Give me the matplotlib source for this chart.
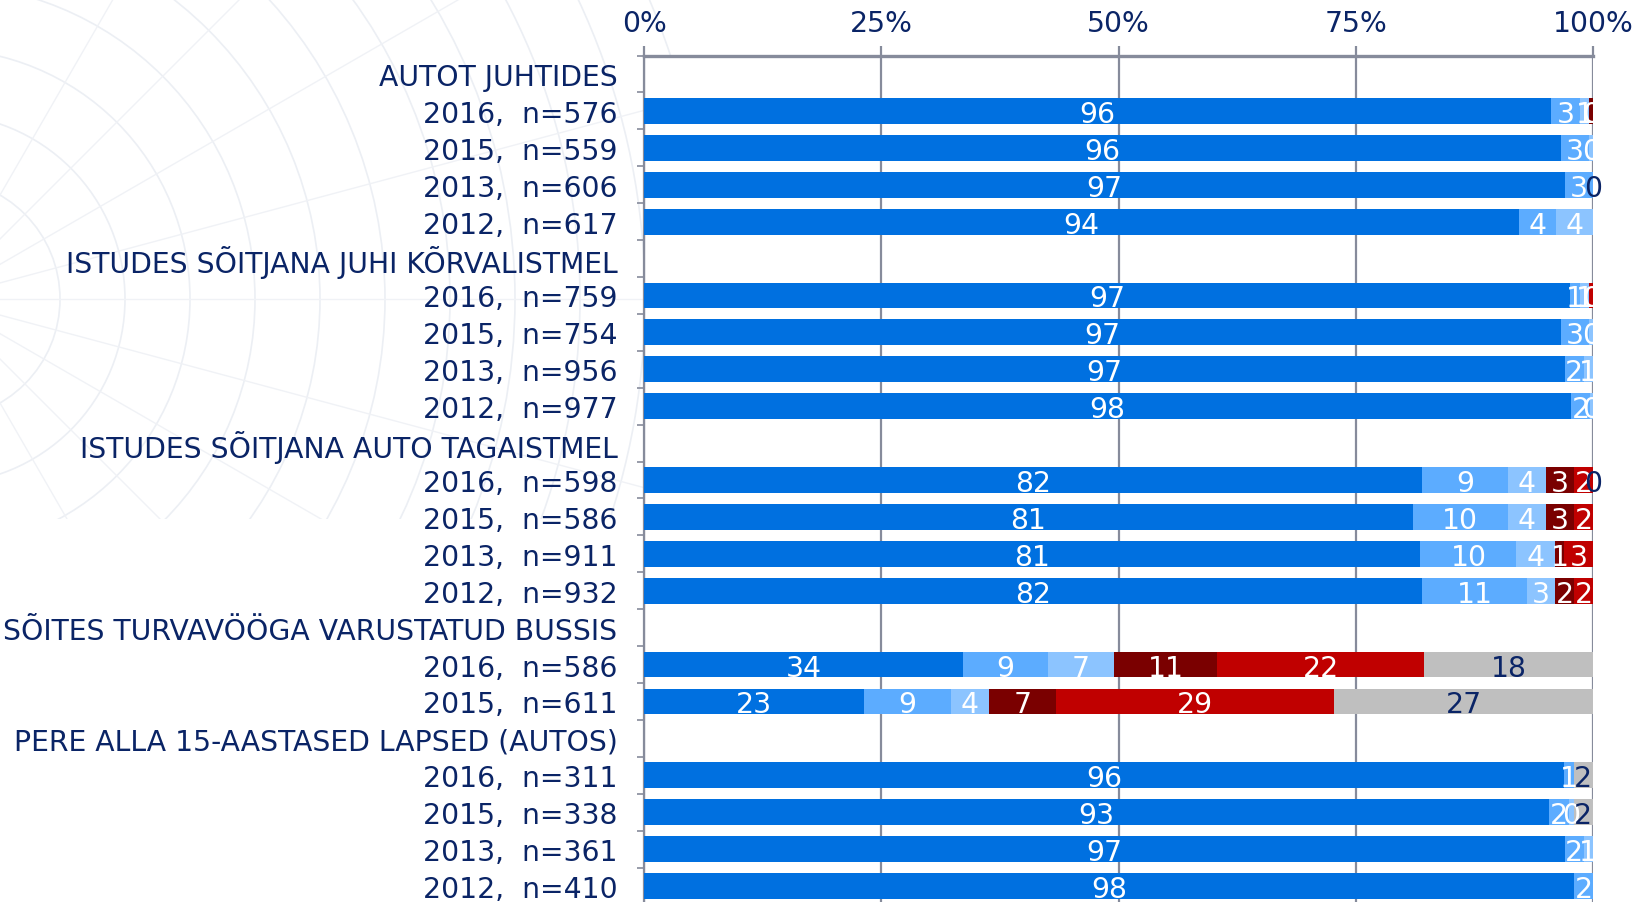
import numpy as np
import matplotlib.pyplot as plt
from matplotlib.patches import Circle

nan = np.nan

row_labels = [
    "AUTOT JUHTIDES", "2016,  n=576", "2015,  n=559", "2013,  n=606", "2012,  n=617",
    "ISTUDES SÕITJANA JUHI KÕRVALISTMEL", "2016,  n=759", "2015,  n=754", "2013,  n=956", "2012,  n=977",
    "ISTUDES SÕITJANA AUTO TAGAISTMEL", "2016,  n=598", "2015,  n=586", "2013,  n=911", "2012,  n=932",
    "SÕITES TURVAVÖÖGA VARUSTATUD BUSSIS", "2016,  n=586", "2015,  n=611",
    "PERE ALLA 15-AASTASED LAPSED (AUTOS)", "2016,  n=311", "2015,  n=338", "2013,  n=361", "2012,  n=410",
]

s_blue    = [nan, 96, 96, 97, 94,  nan, 97, 97, 97, 98,  nan, 82, 81, 81, 82,  nan, 34, 23,  nan, 96, 93, 97, 98]
s_light   = [nan, 3, 3, 3, 4,      nan, 1, 3, 2, 2,      nan, 9, 10, 10, 11,  nan, 9, 9,    nan, 1, 2, 2, 2]
s_lighter = [nan, 1, 0.4, nan, 4,  nan, 1, 0.4, 1, 0.3,  nan, 4, 4, 4, 3,     nan, 7, 4,    nan, nan, 0.5, 1, nan]
s_darkred = [nan, 0.4, nan, nan, nan, nan, nan, nan, nan, nan, nan, 3, 3, 1, 2, nan, 11, 7, nan, nan, nan, nan, nan]
s_red     = [nan, nan, nan, nan, nan, nan, 0.4, nan, nan, nan, nan, 2, 2, 3, 2, nan, 22, 29, nan, nan, nan, nan, nan]
s_grey    = [nan, nan, nan, 0, nan,  nan, nan, nan, nan, nan, nan, 0, nan, nan, nan, nan, 18, 27, nan, 2, 2, nan, nan]

series = [s_blue, s_light, s_lighter, s_darkred, s_red, s_grey]
colors = ["#0070E0", "#5CACFF", "#8CC4FF", "#7A0000", "#C00000", "#BFBFBF"]
text_colors = ["white", "white", "white", "white", "white", "#0A2466"]

navy = "#0A2466"
gridc = "#868B9B"
FS = 20.3

data = np.array(series, dtype=float)
totals = np.nansum(data, axis=0)
totals[totals == 0] = 1

fig = plt.figure(figsize=(16.35, 9.03), dpi=100)

# faint watermark in background
bg = fig.add_axes([0, 0, 1, 1], zorder=-5)
bg.set_xlim(0, 1635)
bg.set_ylim(903, 0)
bg.axis("off")
clip = plt.Rectangle((0, 0), 700, 520, transform=bg.transData, visible=False)
bg.add_patch(clip)
for r in range(120, 900, 65):
    c = Circle((-60, 300), r, fill=False, ec="#ECEFF4", lw=1.2)
    bg.add_patch(c)
    c.set_clip_path(clip)
for ang in np.linspace(-60, 60, 9):
    a = np.radians(ang)
    ln, = bg.plot([-60, -60 + 900 * np.cos(a)], [300, 300 - 900 * np.sin(a)], color="#F0F2F6", lw=1.0)
    ln.set_clip_path(clip)

left = 644 / 1635
right = 1593 / 1635
top_px = 56.5
bot_px = 905.5
ax = fig.add_axes([left, (903 - bot_px) / 903, right - left, (bot_px - top_px) / 903], zorder=1)
ax.set_facecolor("white")

n = len(row_labels)
y = np.arange(n)
cum = np.zeros(n)
for vals, c, tc in zip(data, colors, text_colors):
    w = np.where(np.isnan(vals), 0, vals) / totals * 100
    ax.barh(y, w, left=cum, height=0.70, color=c, edgecolor="none", zorder=3)
    for i in range(n):
        if not np.isnan(vals[i]):
            ax.text(cum[i] + w[i] / 2, y[i], f"{vals[i]:.0f}", ha="center", va="center_baseline",
                    color=tc, fontsize=FS, zorder=4)
    cum = cum + w

ax.set_xlim(0, 100)
ax.set_ylim(n - 0.5, -0.5)
ax.set_xticks([0, 25, 50, 75, 100])
ax.set_xticklabels(["0%", "25%", "50%", "75%", "100%"])
ax.xaxis.tick_top()
ax.tick_params(axis="x", direction="out", length=7, width=1.6, color=gridc,
               labelsize=FS, labelcolor=navy, pad=6)
ax.grid(axis="x", color=gridc, lw=1.6, zorder=1)

ax.set_yticks(y)
ax.set_yticklabels(row_labels)
ax.tick_params(axis="y", which="major", length=0, labelsize=FS, labelcolor=navy, pad=19)
ax.set_yticks(np.arange(n + 1) - 0.5, minor=True)
ax.tick_params(axis="y", which="minor", length=5, width=1.2, color=gridc, direction="out")

for s in ["right", "bottom"]:
    ax.spines[s].set_visible(False)
ax.spines["top"].set_color(gridc)
ax.spines["top"].set_linewidth(2.4)
ax.spines["left"].set_color(gridc)
ax.spines["left"].set_linewidth(1.6)

fig.savefig("out.png", dpi=100)
